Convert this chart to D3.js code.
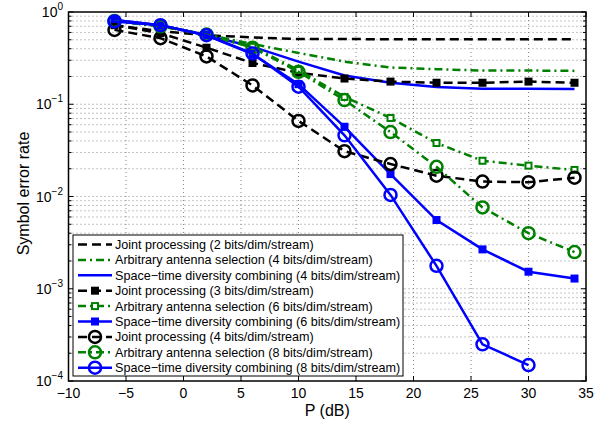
<!DOCTYPE html>
<html>
<head>
<meta charset="utf-8">
<script src="https://cdn.jsdelivr.net/npm/d3@7"></script>
<style>
  body { margin: 0; background: #fff; }
  text { font-family: "Liberation Sans", Arial, Helvetica, sans-serif; }
</style>
</head>
<body>
<svg id="chart" width="605" height="422"></svg>
<script>
// P (dB) values shared by all curves
const snr = [-6, -2, 2, 6, 10, 14, 18, 22, 26, 30, 34]

// Symbol error rate per curve
const jp2 = [0.72, 0.62, 0.56, 0.53, 0.51, 0.51, 0.505, 0.505, 0.505, 0.505, 0.505]
const aas4 = [0.80, 0.70, 0.57, 0.45, 0.36, 0.29, 0.25, 0.24, 0.232, 0.232, 0.23]
const std4 = [0.82, 0.72, 0.56, 0.42, 0.29, 0.205, 0.171, 0.154, 0.147, 0.147, 0.146]
const jp3 = [0.72, 0.59, 0.41, 0.28, 0.22, 0.19, 0.176, 0.171, 0.171, 0.176, 0.171]
const aas6 = [0.80, 0.70, 0.57, 0.42, 0.235, 0.12, 0.071, 0.038, 0.0244, 0.0216, 0.0194]
const std6 = [0.82, 0.72, 0.56, 0.35, 0.165, 0.057, 0.0175, 0.00556, 0.00267, 0.00153, 0.00129]
const jp4 = [0.64, 0.52, 0.33, 0.16, 0.066, 0.031, 0.0225, 0.0168, 0.0145, 0.0143, 0.016]
const aas8 = [0.80, 0.70, 0.57, 0.41, 0.225, 0.111, 0.05, 0.021, 0.0076, 0.004, 0.0025]
const std8 = [0.79, 0.72, 0.56, 0.356, 0.155, 0.046, 0.0104, 0.00177, 0.00025, 0.000149]

const xTicks = [-10, -5, 0, 5, 10, 15, 20, 25, 30, 35]
const yDecades = [-4, -3, -2, -1, 0]

const series = [
  { name: 'Joint processing (2 bits/dim/stream)', values: jp2, color: '#000', dash: 'dash', marker: null },
  { name: 'Arbitrary antenna selection (4 bits/dim/stream)', values: aas4, color: '#008000', dash: 'dashdot', marker: null },
  { name: 'Space\u2212time diversity combining (4 bits/dim/stream)', values: std4, color: '#0000ff', dash: 'solid', marker: null },
  { name: 'Joint processing (3 bits/dim/stream)', values: jp3, color: '#000', dash: 'dash', marker: 'square' },
  { name: 'Arbitrary antenna selection (6 bits/dim/stream)', values: aas6, color: '#008000', dash: 'dashdot', marker: 'smallsquare' },
  { name: 'Space\u2212time diversity combining (6 bits/dim/stream)', values: std6, color: '#0000ff', dash: 'solid', marker: 'square' },
  { name: 'Joint processing (4 bits/dim/stream)', values: jp4, color: '#000', dash: 'dash', marker: 'circle' },
  { name: 'Arbitrary antenna selection (8 bits/dim/stream)', values: aas8, color: '#008000', dash: 'dashdot', marker: 'circle' },
  { name: 'Space\u2212time diversity combining (8 bits/dim/stream)', values: std8, color: '#0000ff', dash: 'solid', marker: 'circle' }
]

const dashes = { dash: '9,5', dashdot: '8,4,2,4', solid: null }

const svg = d3.select('#chart')
const mLeft = 68.5, mRight = 586, mTop = 12, mBottom = 381

const x = d3.scaleLinear().domain([-10, 35]).range([mLeft, mRight])
const y = d3.scaleLog().domain([1e-4, 1]).range([mBottom, mTop])

// Grid (dotted, MATLAB style)
const grid = svg.append('g').attr('stroke', '#888').attr('stroke-width', 1).attr('stroke-dasharray', '1,3')
xTicks.slice(1, -1).forEach(t => {
  grid.append('line').attr('x1', x(t)).attr('x2', x(t)).attr('y1', mTop).attr('y2', mBottom)
})
const yGrid = []
yDecades.slice(0, -1).forEach(d => {
  for (let m = 1; m < 10; m++) yGrid.push({ v: m * Math.pow(10, d), major: m === 1 })
})
yGrid.forEach(g => {
  if (g.v <= 1e-4) return
  grid.append('line').attr('x1', mLeft).attr('x2', mRight).attr('y1', y(g.v)).attr('y2', y(g.v))
})

// Ticks inside the box
const ticks = svg.append('g').attr('stroke', '#000').attr('stroke-width', 1)
xTicks.forEach(t => {
  ticks.append('line').attr('x1', x(t)).attr('x2', x(t)).attr('y1', mBottom).attr('y2', mBottom - 5)
  ticks.append('line').attr('x1', x(t)).attr('x2', x(t)).attr('y1', mTop).attr('y2', mTop + 5)
})
yGrid.concat([{ v: 1, major: true }]).forEach(g => {
  const len = g.major ? 5 : 3
  ticks.append('line').attr('x1', mLeft).attr('x2', mLeft + len).attr('y1', y(g.v)).attr('y2', y(g.v))
  ticks.append('line').attr('x1', mRight).attr('x2', mRight - len).attr('y1', y(g.v)).attr('y2', y(g.v))
})

// Tick labels
svg.append('g').selectAll('text').data(xTicks).join('text')
  .attr('x', d => x(d)).attr('y', mBottom + 17)
  .attr('text-anchor', 'middle').attr('font-size', 14)
  .text(d => d < 0 ? '\u2212' + Math.abs(d) : d)

const yLab = svg.append('g').selectAll('text').data(yDecades).join('text')
  .attr('x', 63).attr('y', d => y(Math.pow(10, d)) + 5)
  .attr('text-anchor', 'end').attr('font-size', 14)
yLab.append('tspan').text('10')
yLab.append('tspan').attr('font-size', 10).attr('dy', -7)
  .text(d => d < 0 ? '\u2212' + Math.abs(d) : d)

// Axis titles
svg.append('text').attr('x', (mLeft + mRight) / 2).attr('y', 416)
  .attr('text-anchor', 'middle').attr('font-size', 16).text('P (dB)')
svg.append('text').attr('transform', `translate(29,${(mTop + mBottom) / 2 - 3}) rotate(-90)`)
  .attr('text-anchor', 'middle').attr('font-size', 16).text('Symbol error rate')

// Marker drawing
const drawMarker = (g, s, cx, cy) => {
  if (s.marker === 'circle') {
    g.append('circle').attr('cx', cx).attr('cy', cy).attr('r', 6)
      .attr('fill', 'none').attr('stroke', s.color).attr('stroke-width', 2.5)
  } else if (s.marker === 'square') {
    g.append('rect').attr('x', cx - 4).attr('y', cy - 4).attr('width', 8).attr('height', 8)
      .attr('fill', s.color)
  } else if (s.marker === 'smallsquare') {
    g.append('rect').attr('x', cx - 3).attr('y', cy - 3).attr('width', 6).attr('height', 6)
      .attr('fill', '#fff').attr('stroke', s.color).attr('stroke-width', 2)
  }
}

const line = d3.line().x(d => x(d[0])).y(d => y(d[1]))

// Curves
const plot = svg.append('g')
series.forEach(s => {
  const pts = s.values.map((v, i) => [snr[i], v])
  plot.append('path').datum(pts).attr('d', line)
    .attr('fill', 'none').attr('stroke', s.color).attr('stroke-width', 2.5)
    .attr('stroke-dasharray', dashes[s.dash])
  const mg = plot.append('g')
  pts.forEach(p => drawMarker(mg, s, x(p[0]), y(p[1])))
})

// Axes box
svg.append('rect').attr('x', mLeft).attr('y', mTop).attr('width', mRight - mLeft).attr('height', mBottom - mTop)
  .attr('fill', 'none').attr('stroke', '#000').attr('stroke-width', 1.5)

// Legend
const lx = 73, ly = 235, lw = 330, rowH = 15.4
const legend = svg.append('g')
legend.append('rect').attr('x', lx).attr('y', ly).attr('width', lw).attr('height', 141)
  .attr('fill', '#fff').attr('stroke', '#000').attr('stroke-width', 1)
series.forEach((s, i) => {
  const cy = ly + 9.5 + i * rowH
  legend.append('line').attr('x1', lx + 5).attr('x2', lx + 39).attr('y1', cy).attr('y2', cy)
    .attr('stroke', s.color).attr('stroke-width', 2.5).attr('stroke-dasharray', dashes[s.dash])
  drawMarker(legend, s, lx + 22, cy)
  legend.append('text').attr('x', lx + 42).attr('y', cy + 4.5).attr('font-size', 12.6).text(s.name)
})
</script>
</body>
</html>
